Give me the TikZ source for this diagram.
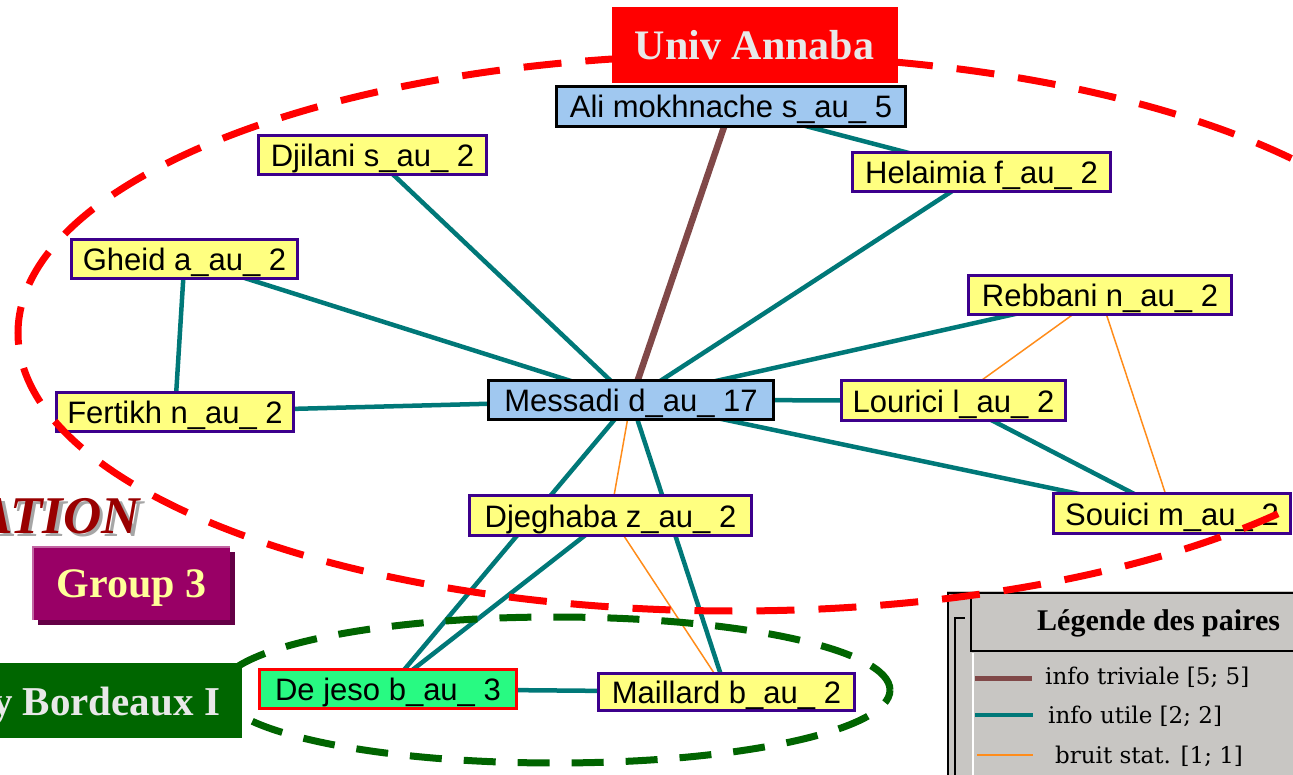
\documentclass[tikz,border=0pt]{standalone}
\usepackage{fontspec}
\setmainfont{Liberation Serif}
\newfontfamily\nodefont{Liberation Sans}
\newfontfamily\legfont{DejaVu Serif}
\usetikzlibrary{calc,backgrounds}

\definecolor{teal2}{RGB}{0,120,120}
\definecolor{brownl}{RGB}{128,72,72}
\definecolor{orangel}{RGB}{255,140,26}
\definecolor{yellowf}{RGB}{255,255,128}
\definecolor{purpleb}{RGB}{60,0,140}
\definecolor{bluef}{RGB}{160,200,240}
\definecolor{greenf}{RGB}{40,250,130}
\definecolor{legbg}{RGB}{200,198,195}
\definecolor{grpfill}{RGB}{153,0,102}
\definecolor{grpshadow}{RGB}{100,0,70}
\definecolor{bordgreen}{RGB}{0,102,0}
\definecolor{lighttext}{RGB}{232,232,232}
\definecolor{grptext}{RGB}{255,255,153}
\definecolor{darkred}{RGB}{153,0,0}
\definecolor{dashgreen}{RGB}{0,100,0}

\begin{document}
\begin{tikzpicture}[x=1pt,y=-1pt,
  au/.style={draw, rectangle, inner sep=0pt, text height=23pt, text depth=0pt,
    font=\nodefont\fontsize{31pt}{31pt}\selectfont},
  yel/.style={au, fill=yellowf, draw=purpleb, line width=3pt},
  blu/.style={au, fill=bluef, draw=black, line width=3.5pt},
  grn/.style={au, fill=greenf, draw=red, line width=3pt},
  utile/.style={teal2, line width=4.5pt},
  triv/.style={brownl, line width=6.5pt},
  bruit/.style={orangel, line width=1.5pt},
  bigtitle/.style={inner sep=0pt, font=\bfseries\fontsize{42pt}{42pt}\selectfont,
    text height=28pt, text depth=0pt},
  legitem/.style={anchor=base west, inner sep=0pt, font=\legfont\fontsize{23pt}{23pt}\selectfont}
]
\useasboundingbox (0,0) rectangle (1293,775);
\clip (0,0) rectangle (1293,775);

% ---- nodes ----
\node[blu, minimum width=349pt, minimum height=40pt] (ali) at (731,106.5) {Ali mokhnache s\_au\_ 5};
\node[yel, minimum width=228pt, minimum height=39pt] (djilani) at (372.5,155) {Djilani s\_au\_ 2};
\node[yel, minimum width=258pt, minimum height=39pt] (helaimia) at (981.5,172) {Helaimia f\_au\_ 2};
\node[yel, minimum width=226pt, minimum height=39pt] (gheid) at (184.5,259) {Gheid a\_au\_ 2};
\node[yel, minimum width=263pt, minimum height=39pt] (rebbani) at (1100,295) {Rebbani n\_au\_ 2};
\node[yel, minimum width=237pt, minimum height=39pt] (fertikh) at (175,412) {Fertikh n\_au\_ 2};
\node[blu, minimum width=285pt, minimum height=39pt] (messadi) at (631,400) {Messadi d\_au\_ 17};
\node[yel, minimum width=224pt, minimum height=40pt] (lourici) at (953.5,400.5) {Lourici l\_au\_ 2};
\node[yel, minimum width=282pt, minimum height=40pt] (djeghaba) at (610.5,515.5) {Djeghaba z\_au\_ 2};
\node[yel, minimum width=237pt, minimum height=40pt] (souici) at (1172,513.5) {Souici m\_au\_ 2};
\node[grn, minimum width=257pt, minimum height=39pt] (dejeso) at (388,689) {De jeso b\_au\_ 3};
\node[yel, minimum width=256pt, minimum height=37pt] (maillard) at (726.5,692) {Maillard b\_au\_ 2};

\begin{pgfonlayer}{background}
  % legend panel
  \fill[legbg] (947,591) rectangle (1293,775);
  \draw[black, line width=2.5pt] (948,775) -- (948,593) -- (1293,593);
  \draw[black, line width=2pt] (955,775) -- (955,618) -- (965,618);
  \draw[black, line width=2pt] (971,593) -- (971,651) -- (1293,651);
  \draw[white, line width=1.5pt] (973,653) -- (973,775);
  % edges
  \draw[utile] (ali.center) -- (helaimia.center);
  \draw[utile] (helaimia.center) -- (messadi.center);
  \draw[utile] (djilani.center) -- (messadi.center);
  \draw[utile] (gheid.center) -- (messadi.center);
  \draw[utile] (gheid.center) -- (fertikh.center);
  \draw[utile] (fertikh.center) -- (messadi.center);
  \draw[utile] (rebbani.center) -- (messadi.center);
  \draw[utile] (lourici.center) -- (messadi.center);
  \draw[utile] (messadi.center) -- (souici.center);
  \draw[utile] (lourici.center) -- (souici.center);
  \draw[bruit] (rebbani.center) -- (lourici.center);
  \draw[bruit] (rebbani.center) -- (souici.center);
  \draw[utile] (messadi.center) -- (dejeso.center);
  \draw[utile] (djeghaba.center) -- (dejeso.center);
  \draw[utile] (messadi.center) -- (maillard.center);
  \draw[bruit] (messadi.center) -- (djeghaba.center);
  \draw[bruit] (djeghaba.center) -- (maillard.center);
  \draw[utile] (dejeso.center) -- (maillard.center);
  \draw[triv] (ali.center) -- (messadi.center);
\end{pgfonlayer}

% legend content
\node[anchor=base west, inner sep=0pt, font=\bfseries\fontsize{30pt}{30pt}\selectfont] (leghead) at (1037,630) {Légende des paires};
\coordinate (l1a) at (975,678); \coordinate (l1b) at (1032,678);
\coordinate (l2a) at (975,715); \coordinate (l2b) at (1033,715);
\coordinate (l3a) at (977,755); \coordinate (l3b) at (1033,755);
\draw[brownl, line width=5pt] (l1a) -- (l1b);
\draw[teal2, line width=3.5pt] (l2a) -- (l2b);
\draw[orangel, line width=1.8pt] (l3a) -- (l3b);
\node[legitem] (leg1) at (1045,684) {info triviale [5; 5]};
\node[legitem] (leg2) at (1048,723) {info utile [2; 2]};
\node[legitem] (leg3) at (1055,763) {bruit stat. [1; 1]};

% ---- dashed ellipses ----
\draw[red, line width=7pt, dash pattern=on 38pt off 24pt] (734,333) ellipse [x radius=716pt, y radius=278pt];
\draw[dashgreen, line width=7pt, dash pattern=on 32pt off 22pt] (555,690) ellipse [x radius=335pt, y radius=73pt];

% ---- label boxes ----
\node[bigtitle, fill=red, minimum width=286pt, minimum height=76pt, text=lighttext] (annaba) at (754.5,45.5) {Univ Annaba};

\node[anchor=base east, inner sep=0pt, font=\bfseries\itshape\fontsize{53pt}{53pt}\selectfont, text=black!35] (ationshadow) at (143.5,536.5) {ATION};
\node[anchor=base east, inner sep=0pt, font=\bfseries\itshape\fontsize{53pt}{53pt}\selectfont, text=darkred] (ation) at (140,533) {ATION};

\fill[grpshadow] (38,552) rectangle (235,625);
\node[bigtitle, fill=grpfill, minimum width=197pt, minimum height=73pt, text=grptext] (group) at (131.5,583.5) {Group 3};
\draw[grpfill!60!white, line width=1.5pt] (group.south west) -- (group.north west) -- (group.north east);

\node[fill=bordgreen, minimum width=242pt, minimum height=75pt, inner sep=0pt] (bordeaux) at (121,700.5) {};
\node[anchor=base east, inner sep=0pt, text=lighttext, font=\bfseries\fontsize{41pt}{41pt}\selectfont] (bordtext) at ($(bordeaux.east)+(-22,14.5)$) {y Bordeaux I};
\end{tikzpicture}
\end{document}
